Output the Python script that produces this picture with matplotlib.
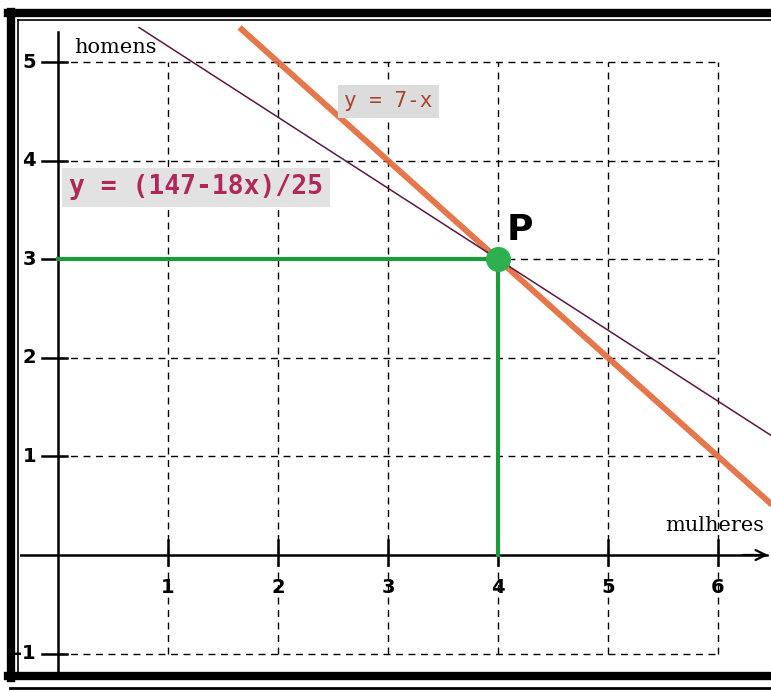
import numpy as np
import matplotlib
matplotlib.use("Agg")
import matplotlib.pyplot as plt
from matplotlib.lines import Line2D

# ---- data ----
x_ticks = [1, 2, 3, 4, 5, 6]
y_ticks = [-1, 1, 2, 3, 4, 5]
grid_x = [1, 2, 3, 4, 5, 6]
grid_y = [-1, 1, 2, 3, 4, 5]
line1_label = "y = 7-x"
line1_a, line1_b = 7.0, -1.0           # y = a + b x
line2_label = "y = (147-18x)/25"
line2_num, line2_slope, line2_den = 147.0, -18.0, 25.0
P = (4, 3)
x_label = "mulheres"
y_label = "homens"

W, H = 771, 691
fig = plt.figure(figsize=(W / 100, H / 100), dpi=100)
fig.patch.set_facecolor("white")

left_px, right_px, top_px, bot_px = 20, 771, 25, 672
ax = fig.add_axes([left_px / W, 1 - bot_px / H, (right_px - left_px) / W, (bot_px - top_px) / H])
x0_px, y0_px = 58, 555
sx, sy = 110.0, 98.6
ax.set_xlim((left_px - x0_px) / sx, (right_px - x0_px) / sx)
ax.set_ylim((y0_px - bot_px) / sy, (y0_px - top_px) / sy)
for s in ax.spines.values():
    s.set_visible(False)
ax.set_xticks([])
ax.set_yticks([])
ax.set_facecolor("white")

xmin, xmax = ax.get_xlim()
ymin, ymax = ax.get_ylim()

# dashed grid
for gx in grid_x:
    ax.plot([gx, gx], [-1, 5], color="black", lw=1.0, ls=(0, (5, 4)), zorder=1)
for gy in grid_y:
    ax.plot([0, 6], [gy, gy], color="black", lw=1.0, ls=(0, (5, 4)), zorder=1)

# axes lines with arrows
ax.plot([xmin, 6.45], [0, 0], color="black", lw=1.8, zorder=2)
ax.plot([0, 0], [ymin, 5.3], color="black", lw=1.8, zorder=2)
ax.annotate("", xy=(6.48, 0), xytext=(6.2, 0),
            arrowprops=dict(arrowstyle="->", lw=1.6, color="black", mutation_scale=18), zorder=2)
ax.annotate("", xy=(0, 5.42), xytext=(0, 5.1),
            arrowprops=dict(arrowstyle="->", lw=1.6, color="black", mutation_scale=18), zorder=2)

# tick marks and labels
for t in x_ticks:
    ax.plot([t, t], [-0.1, 0.15], color="black", lw=1.8, zorder=2)
    ax.text(t, -0.33, str(t), ha="center", va="center", fontsize=14,
            fontweight="bold", family="DejaVu Sans", zorder=3)
for t in y_ticks:
    ax.plot([-0.15, 0.08], [t, t], color="black", lw=1.8, zorder=2)
    ax.text(-0.2, t, str(t), ha="right", va="center", fontsize=14,
            fontweight="bold", family="DejaVu Sans", zorder=3)

ax.text(0.15, 5.05, y_label, ha="left", va="bottom", fontsize=15,
        family="DejaVu Serif", zorder=3)
ax.text(6.42, 0.2, x_label, ha="right", va="bottom", fontsize=15,
        family="DejaVu Serif", zorder=3)

# lines
ytop = 5.35
xs1 = np.array([(ytop - line1_a) / line1_b, xmax + 0.2])
ax.plot(xs1, line1_a + line1_b * xs1, color="#e3683a", lw=4.3, alpha=0.9,
        solid_capstyle="butt", zorder=4)
xs2 = np.array([(ytop * line2_den - line2_num) / line2_slope, xmax + 0.2])
ax.plot(xs2, (line2_num + line2_slope * xs2) / line2_den, color="#5a1845", lw=1.1,
        zorder=4)

# green guides and point
ax.plot([0, P[0]], [P[1], P[1]], color="#1f9a3a", lw=3, zorder=5)
ax.plot([P[0], P[0]], [0, P[1]], color="#1f9a3a", lw=3, zorder=5)
ax.plot([P[0]], [P[1]], "o", color="#2db04f", ms=17, zorder=6)
ax.text(P[0] + 0.08, P[1] + 0.12, "P", fontsize=26, fontweight="bold",
        family="DejaVu Sans", ha="left", va="bottom", zorder=6)

# equation labels
ax.text(2.6, 4.6, line1_label, fontsize=15, family="DejaVu Sans Mono",
        color="#a8442a", ha="left", va="center", zorder=6,
        bbox=dict(boxstyle="square,pad=0.3", fc="#dcdcdc", ec="none"))
ax.text(0.1, 3.73, line2_label, fontsize=19, family="DejaVu Sans Mono",
        fontweight="bold", color="#b0285a", ha="left", va="center", zorder=6,
        bbox=dict(boxstyle="square,pad=0.25", fc="#e2e2e2", ec="none"))

# screen frame
fig.add_artist(Line2D([11 / W, 11 / W], [1 - 12 / H, 1 - 678 / H], transform=fig.transFigure,
                      color="black", lw=6))
fig.add_artist(Line2D([8 / W, 1], [1 - 13 / H, 1 - 13 / H], transform=fig.transFigure,
                      color="black", lw=6))
fig.add_artist(Line2D([8 / W, 1], [1 - 676 / H, 1 - 676 / H], transform=fig.transFigure,
                      color="black", lw=6))
fig.add_artist(Line2D([10 / W, 1], [1 - 688 / H, 1 - 688 / H], transform=fig.transFigure,
                      color="black", lw=2))
fig.add_artist(Line2D([18 / W, 18 / W], [1 - 20 / H, 1 - 672 / H], transform=fig.transFigure,
                      color="black", lw=1.2))
fig.add_artist(Line2D([18 / W, 1], [1 - 20 / H, 1 - 20 / H], transform=fig.transFigure,
                      color="black", lw=1.2))

fig.savefig("out.png", dpi=100, facecolor="white")
